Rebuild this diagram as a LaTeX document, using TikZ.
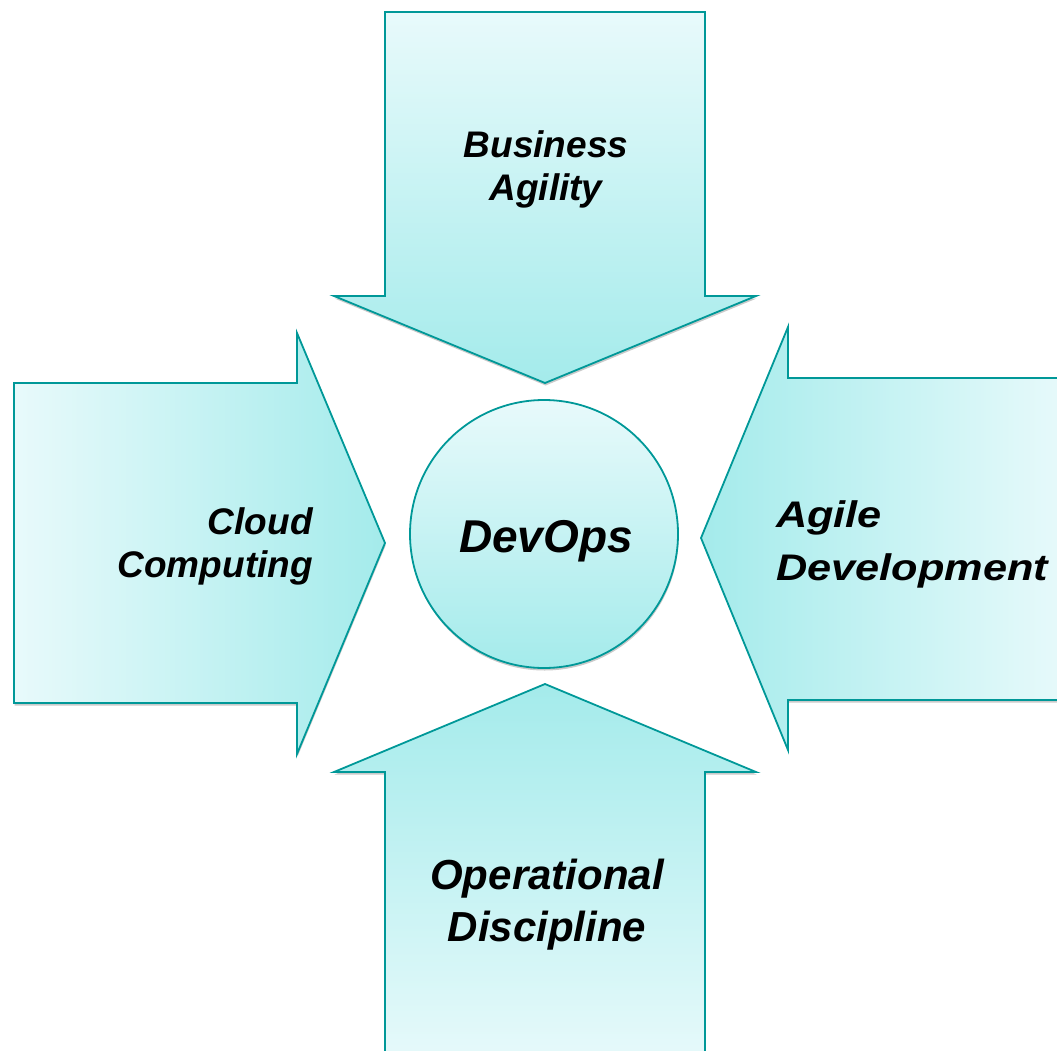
\documentclass[tikz,border=0pt]{standalone}
\usepackage{fontspec}
\setmainfont{Liberation Sans}
\newfontfamily\widesans[FakeStretch=1.17]{Liberation Sans}
\usetikzlibrary{shadows}
\definecolor{edgeteal}{RGB}{0,152,152}
\definecolor{paleaqua}{RGB}{232,250,251}
\definecolor{deepaqua}{RGB}{164,235,235}
\tikzset{shaft/.style = {draw=edgeteal, line width=1.8pt, drop shadow={shadow xshift=.6pt, shadow yshift=-2.5pt, opacity=.35, fill=black!60}},
         lbl/.style = {inner sep=0pt, font=\fontsize{37}{43}\selectfont\bfseries\itshape}}
\begin{document}
\begin{tikzpicture}[x=1pt, y=-1pt]
\clip (0,0) rectangle (1057,1051);
\path [shaft, top color=paleaqua, bottom color=deepaqua] (385,12) -- (705,12) -- (705,296) -- (756,296) -- (545,383) -- (334,296) -- (385,296) -- cycle;
\path [shaft, left color=paleaqua, right color=deepaqua] (14,383) -- (297,383) -- (297,333) -- (385,543) -- (297,754) -- (297,703) -- (14,703) -- cycle;
\path [shaft, left color=deepaqua, right color=paleaqua] (1070,378) -- (788,378) -- (788,327) -- (701,538) -- (788,750) -- (788,700) -- (1070,700) -- cycle;
\path [shaft, top color=deepaqua, bottom color=paleaqua] (545,684) -- (756,772) -- (705,772) -- (705,1070) -- (385,1070) -- (385,772) -- (334,772) -- cycle;
\node [shaft, circle, minimum size=268, inner sep=0pt, top color=paleaqua, bottom color=deepaqua] (hub) at (544,534) {};
\node [lbl, font=\fontsize{46}{52}\selectfont\bfseries\itshape, anchor=base] (devops) at (546,552) {DevOps};
\node [lbl, align=center] (business) at (546,169) {Business\\Agility};
\node [lbl, align=right, anchor=east] (cloud) at (313,546) {Cloud\\Computing};
\node [lbl, align=left, anchor=west, font=\fontsize{37}{53}\selectfont\widesans\bfseries\itshape] (agile) at (776,544) {Agile\\Development};
\node [lbl, align=center, font=\fontsize{42}{52}\selectfont\bfseries\itshape] (operational) at (547,905) {Operational\\Discipline};
\end{tikzpicture}
\end{document}
